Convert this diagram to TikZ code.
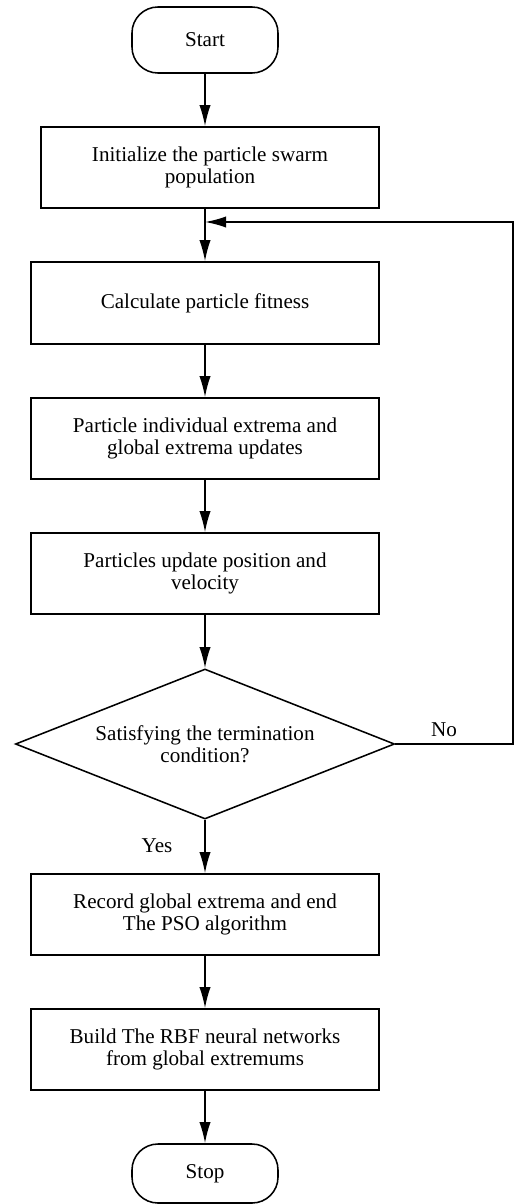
\documentclass[tikz,border=0pt]{standalone}
\usepackage{fontspec}
\setmainfont{Liberation Serif}
\usetikzlibrary{shapes.geometric,arrows.meta,positioning}
\tikzstyle{every node}=[font=\fontsize{15}{15.6}\selectfont]
\tikzstyle{procbox}=[draw,rectangle,line width=1.1pt,minimum width=8.7cm,minimum height=2.025cm,align=center,inner sep=2pt]
\tikzstyle{termbox}=[draw,rectangle,rounded corners=0.65cm,line width=1.1pt,minimum width=3.65cm,minimum height=1.65cm]
\tikzstyle{decbox}=[draw,diamond,aspect=2.5,line width=1.1pt,minimum width=9.475cm,minimum height=3.75cm,inner sep=0pt,align=center]
\tikzstyle{flow}=[line width=1.1pt,-{Latex[length=15pt,width=8pt]}]

\begin{document}
\begin{tikzpicture}[x=0.025cm,y=-0.025cm]
\useasboundingbox (0,0) rectangle (514,1204);
\node[termbox] (start) at (205,40) {Start};
\node[procbox,minimum width=8.45cm] (init) at (210,167.5) {Initialize the particle swarm\\population};
\node[procbox,minimum height=2.05cm] (fit) at (205,303) {Calculate particle fitness};
\node[procbox] (best) at (205,438.5) {Particle individual extrema and\\global extrema updates};
\node[procbox] (move) at (205,573.5) {Particles update position and\\velocity};
\node[decbox] (dec) at (205,744) {Satisfying the termination\\condition?};
\node[procbox] (rec) at (205,914.5) {Record global extrema and end\\The PSO algorithm};
\node[procbox] (rbf) at (205,1049.5) {Build The RBF neural networks\\from global extremums};
\node[termbox,minimum height=1.475cm] (stop) at (205,1173.5) {Stop};
\coordinate (merge) at (205,222);
\coordinate (back) at (513,222);
\node (no) at (444,730) {No};
\node (yes) at (157,846) {Yes};
\draw[flow] (start) -- (start |- init.north);
\draw[flow] (merge |- init.south) -- (fit);
\draw[flow] (fit) -- (best);
\draw[flow] (best) -- (move);
\draw[flow] (move) -- (dec);
\draw[flow] (dec) -- (rec);
\draw[flow] (rec) -- (rbf);
\draw[flow] (rbf) -- (stop);
\draw[flow] (dec.east) -| (back) -- (merge);
\end{tikzpicture}
\end{document}
